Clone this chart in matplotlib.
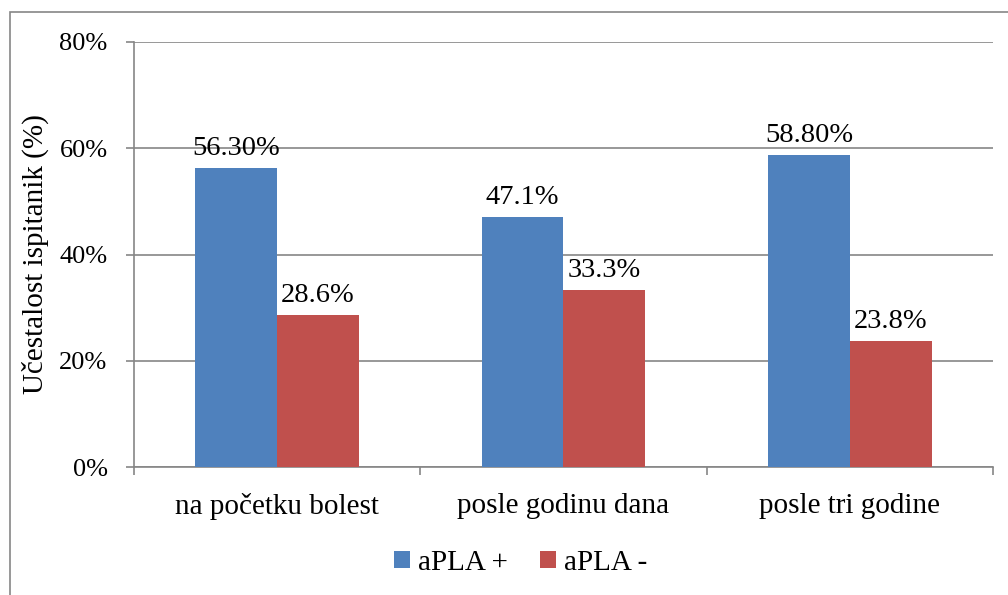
import numpy as np
import matplotlib
matplotlib.use("Agg")
import matplotlib.pyplot as plt
from matplotlib.patches import Rectangle

CATEGORIES = ["na početku bolest", "posle godinu dana", "posle tri godine"]
APLA_POS = [56.3, 47.1, 58.8]
APLA_NEG = [28.6, 33.3, 23.8]
POS_LABELS = ["56.30%", "47.1%", "58.80%"]
NEG_LABELS = ["28.6%", "33.3%", "23.8%"]
YTICKS = [0, 20, 40, 60, 80]

BLUE = "#4F81BD"
RED = "#C0504D"
GRID = "#868686"

plt.rcParams["font.family"] = ["Liberation Serif", "DejaVu Serif"]
plt.rcParams["font.size"] = 18

fig = plt.figure(figsize=(10.08, 5.95), dpi=100)
ax = fig.add_axes([134/1008, 1 - 467/595, (993 - 134)/1008, (467 - 42)/595])

# outer chart border (left/top visible, runs off the right and bottom)
fig.patches.append(Rectangle((10/1008, -0.05), 1.1, 1 - 12/595 + 0.05,
                             transform=fig.transFigure, fill=False,
                             edgecolor=GRID, linewidth=1.2))

x = np.arange(len(CATEGORIES))
w = 1 / 3.5
b1 = ax.bar(x - w/2, APLA_POS, w, color=BLUE, label="aPLA +", zorder=3)
b2 = ax.bar(x + w/2, APLA_NEG, w, color=RED, label="aPLA -", zorder=3)

for bars, labs in ((b1, POS_LABELS), (b2, NEG_LABELS)):
    for r, t in zip(bars, labs):
        ax.text(r.get_x() + r.get_width()/2, r.get_height() + 1.3, t,
                ha="center", va="bottom", fontsize=20.5)

ax.set_xlim(-0.5, 2.5)
ax.set_ylim(0, 80)
ax.set_yticks(YTICKS)
ax.set_yticklabels(["%d%%" % v for v in YTICKS], fontsize=19)
ax.yaxis.grid(True, color=GRID, linewidth=1.2, zorder=0)

ax.set_xticks([-0.5, 0.5, 1.5, 2.5])
ax.set_xticklabels([])
ax.set_xticks(x, minor=True)
ax.set_xticklabels(CATEGORIES, minor=True, fontsize=21)
ax.tick_params(axis="x", which="minor", length=0, pad=19)
ax.tick_params(axis="x", which="major", length=6, color=GRID, width=1.2)
ax.tick_params(axis="y", length=6, color=GRID, width=1.2, pad=13)

for s in ("top", "right"):
    ax.spines[s].set_visible(False)
for s in ("left", "bottom"):
    ax.spines[s].set_color(GRID)
    ax.spines[s].set_linewidth(1.2)

ax.set_ylabel("Učestalost ispitanik (%)", fontsize=21)
ax.yaxis.set_label_coords(-0.099, 0.5)

fig.legend(loc="center", bbox_to_anchor=(521/1008, 1 - 563/595), ncol=2,
           frameon=False, handlelength=0.52, handleheight=0.52,
           handletextpad=0.3, columnspacing=1.1, fontsize=21)

fig.savefig("out.png", dpi=100)
